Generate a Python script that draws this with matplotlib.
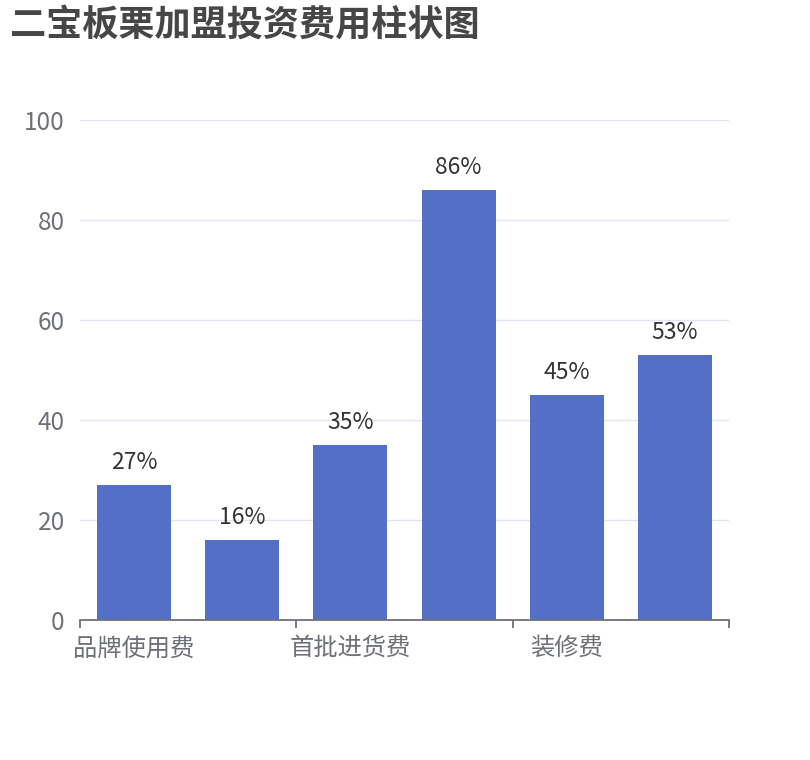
import matplotlib
matplotlib.use('Agg')
from matplotlib import pyplot as plt

plt.rcParams['font.family'] = ['Noto Sans CJK SC', 'DejaVu Sans']

title = '二宝板栗加盟投资费用柱状图'
categories = ['品牌使用费', '加盟费', '首批进货费', '设备费', '装修费', '其他费用']
values = [27, 16, 35, 86, 45, 53]
y_ticks = [0, 20, 40, 60, 80, 100]
shown_labels = [0, 2, 4]

W, H = 810, 760
fig = plt.figure(figsize=(W / 100, H / 100), dpi=100)
ax = fig.add_axes([80 / W, 1 - 620 / H, (729 - 80) / W, (620 - 120) / H])

axis_col = '#6E7079'
grid_col = '#E0E6F1'
bar_col = '#5470C6'

x = list(range(len(categories)))
ax.bar(x, values, width=0.685, color=bar_col, zorder=3)
for i, v in enumerate(values):
	ax.annotate(f'{v}%', (i, v), xytext=(0, 8), textcoords='offset points',
		ha='center', va='bottom', fontsize=16.5, color='#333333')

ax.set_xlim(-0.5, len(categories) - 0.5)
ax.set_ylim(0, 100)
ax.set_yticks(y_ticks)
ax.set_yticklabels([str(t) for t in y_ticks], fontsize=17.5, color=axis_col)
ax.yaxis.grid(True, color=grid_col, linewidth=1, zorder=0)
ax.tick_params(axis='y', length=0, pad=11)

# ticks on boundaries, every other category gets a label
ax.set_xticks([-0.5, 1.5, 3.5, 5.5])
ax.set_xticklabels([])
ax.set_xticks(shown_labels, minor=True)
ax.set_xticklabels([categories[i] for i in shown_labels], minor=True, fontsize=17.5, color=axis_col)
ax.tick_params(axis='x', which='major', length=6, color=axis_col, width=1.3)
ax.tick_params(axis='x', which='minor', length=0, pad=11)

for s in ['top', 'right', 'left']:
	ax.spines[s].set_visible(False)
ax.spines['bottom'].set_color(axis_col)
ax.spines['bottom'].set_linewidth(1.3)
ax.spines['bottom'].set_zorder(4)

fig.text(10 / W, 1 - 25 / H, title, fontsize=26, fontweight='bold', color='#464646', va='center', ha='left')

fig.savefig('out.png', dpi=100)
